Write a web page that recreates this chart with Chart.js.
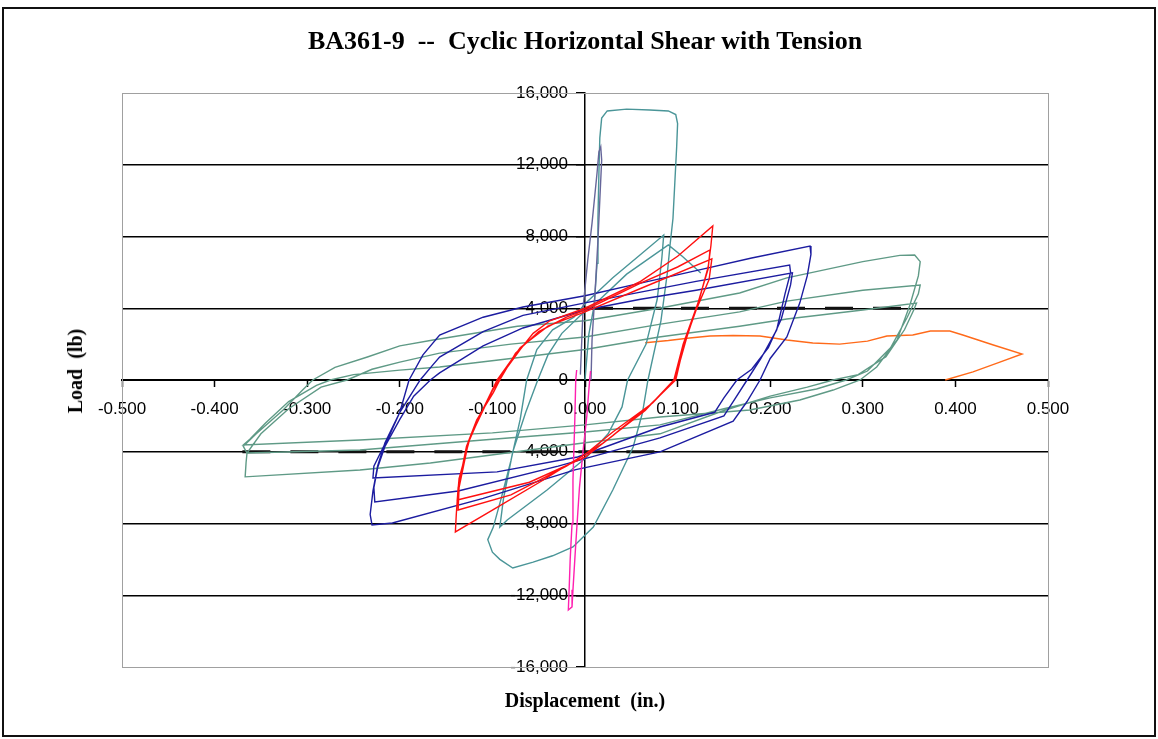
<!DOCTYPE html>
<html><head><meta charset="utf-8">
<script src="https://cdn.jsdelivr.net/npm/chart.js@4.4.1/dist/chart.umd.min.js"></script>
<style>
html,body{margin:0;padding:0;background:#fff;}
#wrap{position:relative;width:1158px;height:739px;overflow:hidden;background:#fff;}
#frame{position:absolute;left:2px;top:7px;width:1150px;height:726px;border:2px solid #111;}
canvas{position:absolute;left:0;top:0;}
.t{position:absolute;font-family:'Liberation Serif','Times New Roman',serif;font-weight:bold;color:#000;white-space:pre;line-height:1;}
#title{left:0;width:1170px;text-align:center;top:28px;font-size:26px;}
#xt{left:0;width:1170px;text-align:center;top:690px;font-size:20px;}
#yt{left:75px;top:371px;font-size:20px;transform:translate(-50%,-50%) rotate(-90deg);}
</style></head>
<body><div id="wrap"><div id="frame"></div>
<canvas id="c" width="1158" height="739"></canvas>
<div class="t" id="title">BA361-9  --  Cyclic Horizontal Shear with Tension</div>
<div class="t" id="xt">Displacement  (in.)</div>
<div class="t" id="yt">Load  (lb)</div>
</div>
<script>
// ---- data: [displacement (in.), load (lb)] ----
const teal = [
[0.000,0],[0.004,2500],[0.010,4200],[0.013,6500],[0.014,9000],[0.015,11500],[0.016,13500],[0.018,14600],[0.024,15000],[0.045,15100],[0.070,15050],[0.090,15000],[0.098,14800],[0.100,14300],[0.099,13000],[0.097,11000],[0.095,9000],[0.092,7600],[0.089,6000],[0.082,3300],[0.068,0],[0.062,-1840],[0.052,-3735],[0.030,-6130],[0.009,-8195],[-0.013,-9310],[-0.035,-9800],[-0.056,-10150],[-0.078,-10480],[-0.092,-10000],[-0.100,-9600],[-0.105,-8900],[-0.099,-8200],[-0.090,-6500],[-0.080,-4500],[-0.070,-2200],[-0.063,0],[-0.052,1700],[-0.035,2800],[-0.012,3500],[0.000,4250],[0.030,5700],[0.060,7000],[0.085,8080],[0.083,6800],[0.078,4500],[0.066,2000],[0.046,0],[0.040,-1500],[0.025,-3000],[0.002,-4290],[-0.041,-6130],[-0.084,-7800],[-0.092,-8200],[-0.088,-6600],[-0.078,-4000],[-0.064,-1800],[-0.051,0],[-0.040,1400],[-0.025,2600],[-0.005,3600],[0.010,4200],[0.045,5900],[0.090,7530],[0.105,6900],[0.125,5960]
];
const slate = [
[-0.005,300],[-0.002,4070],[0.003,6690],[0.0076,8750],[0.013,11540],[0.015,12710],[0.017,13000],[0.018,12260],[0.016,10035],[0.014,7800],[0.011,5020],[0.0076,2230],[0.0065,0]
];
const magenta = [
[0.006,500],[0.005,0],[0.002,-2000],[-0.002,-3900],[-0.006,-6000],[-0.009,-8360],[-0.011,-10000],[-0.013,-11700],[-0.014,-12650],[-0.018,-12820],[-0.017,-11500],[-0.016,-10000],[-0.014,-8000],[-0.013,-5575],[-0.011,-2230],[-0.010,0],[-0.009,560]
];
const red = [
[-0.093,0],[-0.084,700],[-0.070,1700],[-0.056,2600],[-0.038,3300],[0.000,4000],[0.060,5500],[0.100,6900],[0.138,8590],
[0.136,7500],[0.133,6300],[0.124,4600],[0.110,2400],[0.097,0],[0.073,-1280],[0.030,-2900],[0.002,-4070],[-0.045,-5575],[-0.100,-7250],[-0.140,-8470],
[-0.139,-7500],[-0.137,-6000],[-0.128,-3700],[-0.117,-2230],[-0.099,-700],[-0.092,0],[-0.075,1500],[-0.050,2700],[-0.020,3500],[0.000,3900],[0.060,5400],[0.100,6300],[0.135,7250],
[0.133,6200],[0.122,4300],[0.106,2000],[0.096,0],[0.065,-1700],[0.020,-3500],[-0.020,-4800],[-0.080,-6400],[-0.137,-7250],
[-0.136,-6000],[-0.126,-3500],[-0.110,-1600],[-0.095,0],[-0.070,1800],[-0.040,3000],[0.000,3800],[0.060,5100],[0.137,6750],
[0.134,5600],[0.120,3900],[0.107,2000],[0.098,0],[0.070,-1400],[0.030,-3100],[0.000,-4300],[-0.060,-5700],[-0.138,-6690],
[-0.136,-5500],[-0.124,-3200],[-0.100,-600],[-0.093,0]
];
const blue = [
[-0.190,0],[-0.175,1400],[-0.157,2510],[-0.110,3500],[-0.067,4070],[0.000,4700],[0.060,5400],[0.120,6100],[0.180,6800],[0.243,7470],
[0.244,7000],[0.240,5800],[0.232,4300],[0.218,2400],[0.200,1200],[0.189,0],[0.175,-1200],[0.160,-2300],
[0.081,-4010],[-0.010,-5000],[-0.110,-6600],[-0.208,-7970],[-0.230,-8080],
[-0.232,-7500],[-0.229,-6200],[-0.224,-4800],[-0.216,-3500],[-0.200,-1800],[-0.178,0],
[-0.165,800],[-0.157,1280],[-0.110,2700],[-0.067,3600],[0.000,4300],[0.060,4900],[0.120,5500],[0.221,6410],
[0.222,6000],[0.216,4800],[0.207,2790],[0.190,1200],[0.175,0],[0.160,-1200],[0.150,-2000],
[0.081,-3230],[-0.029,-4800],[-0.137,-6190],[-0.227,-6800],
[-0.228,-6000],[-0.224,-4900],[-0.216,-3700],[-0.200,-2200],[-0.185,-900],[-0.167,0],
[-0.157,400],[-0.110,1900],[-0.067,2900],[0.000,3900],[0.060,4500],[0.120,5000],[0.224,5970],
[0.222,5300],[0.212,3400],[0.198,1800],[0.180,600],[0.164,0],[0.150,-1000],[0.140,-1800],
[0.081,-2620],[-0.008,-4290],[-0.095,-5120],[-0.229,-5460],
[-0.228,-4800],[-0.221,-4070],[-0.210,-2950],[-0.200,-1800],[-0.190,0]
];
const sage = [
[-0.157,1500],[-0.080,2000],[0.000,2400],[0.080,3100],[0.167,3800],[0.218,4400],[0.300,5000],[0.362,5300],
[0.360,4800],[0.348,3500],[0.330,1800],[0.305,500],[0.282,0],[0.250,-500],[0.200,-1000],[0.150,-1600],[0.081,-2500],
[0.000,-2900],[-0.100,-3300],[-0.243,-3900],[-0.365,-4070],
[-0.369,-3700],[-0.355,-3000],[-0.326,-1670],[-0.305,-560],[-0.294,0],[-0.270,700],[-0.235,1280],[-0.200,1900],[-0.164,2230],[-0.073,3000],
[0.000,3300],[0.080,4000],[0.167,4850],[0.218,5690],[0.300,6600],[0.340,6950],[0.356,6970],
[0.362,6600],[0.360,5800],[0.351,4200],[0.337,2230],[0.315,725],[0.297,0],[0.268,-560],[0.232,-1115],[0.178,-1670],[0.081,-2060],
[0.000,-2500],[-0.100,-2950],[-0.243,-3345],[-0.369,-3625],
[-0.362,-3300],[-0.345,-2400],[-0.320,-1200],[-0.290,-300],[-0.275,0],[-0.250,300],[-0.200,550],[-0.157,725],
[-0.080,1200],[0.000,1700],[0.080,2400],[0.167,3000],[0.218,3400],[0.300,3900],[0.358,4290],
[0.355,3900],[0.345,2800],[0.325,1300],[0.295,300],[0.268,0],[0.240,-400],[0.200,-900],[0.150,-1700],[0.081,-3000],
[0.000,-3500],[-0.167,-4630],[-0.243,-5020],[-0.367,-5400],
[-0.366,-4600],[-0.365,-4070],[-0.350,-3000],[-0.320,-1600],[-0.285,-400],[-0.257,0],[-0.230,600],[-0.200,1000],[-0.157,1500]
];
const orange = [
[0.065,2080],[0.090,2200],[0.113,2340],[0.135,2450],[0.160,2480],[0.189,2450],[0.218,2230],[0.246,2060],[0.275,2000],[0.305,2170],[0.326,2450],[0.354,2510],[0.373,2730],[0.394,2730],[0.408,2510],[0.441,1950],[0.472,1450],[0.448,1000],[0.419,450],[0.389,0]
];
const design = [[0.000,4000],[0.360,4000],null,[-0.370,-4000],[0.090,-4000]];

const xTicks = {min:-0.5, max:0.5, step:0.1};
const yTicks = {min:-16000, max:16000, step:4000};

const pts = a => a.map(p => p ? {x:p[0], y:p[1]} : {x:null, y:null});
function ds(arr, color, w, dash){
  return {data:pts(arr), borderColor:color, backgroundColor:color, showLine:true, pointRadius:0, borderWidth:w, borderDash:dash||[], tension:0, spanGaps:false};
}
const framePlugin = {id:'frame', beforeDatasetsDraw(chart){
  const {ctx, chartArea:a} = chart; ctx.save(); ctx.strokeStyle='#a0a0a0'; ctx.lineWidth=1;
  ctx.strokeRect(Math.round(a.left)+0.5, Math.round(a.top)+0.5, Math.round(a.right-a.left), Math.round(a.bottom-a.top)); ctx.restore();
}};
const tickFont = {family:"'Liberation Sans', Arial, sans-serif", size:17};
new Chart(document.getElementById('c'), {
  type:'scatter',
  data:{datasets:[
    ds(red,'#ff1010',1.4),
    ds(magenta,'#ff20b0',1.4),
    ds(slate,'#66669a',1.4),
    ds(blue,'#1c1ca0',1.4),
    ds(teal,'#4a9598',1.4),
    ds(sage,'#5f9a86',1.4),
    ds(orange,'#ff6a1a',1.4),
    ds(design,'#111',3,[28,20])
  ]},
  options:{
    responsive:false, animation:false, devicePixelRatio:1,
    layout:{padding:{left:122,right:110,top:93,bottom:72}},
    plugins:{legend:{display:false}, tooltip:{enabled:false}},
    scales:{
      x:{type:'linear', min:xTicks.min, max:xTicks.max, position:{y:0},
        ticks:{stepSize:xTicks.step, autoSkip:false, maxRotation:0, color:'#000', font:tickFont, padding:13,
          callback:v => (Math.abs(v)<1e-9?0:v).toFixed(3)},
        grid:{drawOnChartArea:false, drawTicks:true, tickLength:6, tickColor:'#000', tickWidth:1.5},
        border:{color:'#000', width:2}},
      y:{type:'linear', min:yTicks.min, max:yTicks.max, position:{x:0},
        ticks:{stepSize:yTicks.step, color:'#000', font:tickFont, padding:6,
          callback:v => Number(v).toLocaleString('en-US') + '\u2002\u2002'},
        grid:{color:c => Math.abs(c.tick.value)===16000 ? 'rgba(0,0,0,0)' : '#000', lineWidth:1.5, tickLength:8, tickColor:'#000', tickWidth:1.5},
        border:{color:'#000', width:1.5}}
    }
  },
  plugins:[framePlugin]
});
</script>
</body></html>
